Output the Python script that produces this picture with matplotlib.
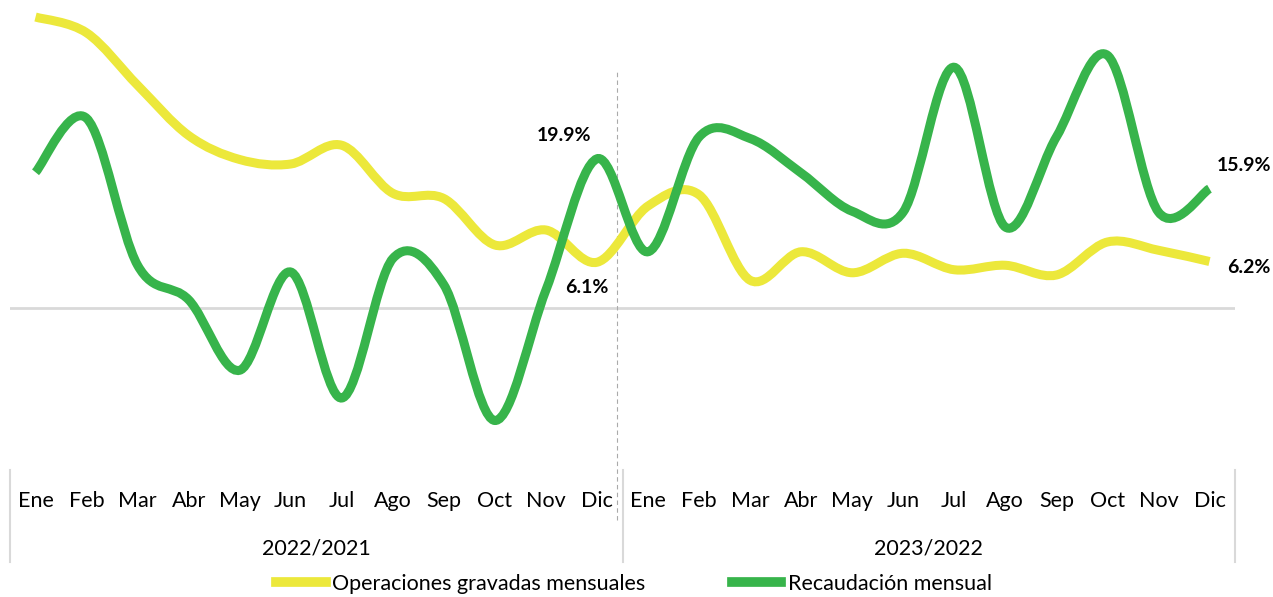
import matplotlib.pyplot as plt
from matplotlib.path import Path
from matplotlib.patches import PathPatch
from matplotlib.lines import Line2D
import numpy as np

plt.rcParams['font.family'] = ['Lato', 'DejaVu Sans']

months = ['Ene', 'Feb', 'Mar', 'Abr', 'May', 'Jun',
          'Jul', 'Ago', 'Sep', 'Oct', 'Nov', 'Dic']
periods = ['2022/2021', '2023/2022']

# variacion % mensual, 24 meses
operaciones = [38.8, 36.7, 29.7, 23.0, 19.8, 19.2, 21.7, 15.3, 14.6, 8.4, 10.4, 6.1,
               13.6, 15.1, 3.7, 7.5, 4.7, 7.3, 5.1, 5.7, 4.4, 8.8, 7.7, 6.2]
recaudacion = [18.1, 25.3, 5.7, 1.1, -8.3, 4.8, -12.0, 6.6, 3.1, -15.0, 2.4, 19.9,
               7.5, 22.8, 22.6, 18.0, 12.9, 12.8, 32.1, 10.8, 22.8, 33.7, 12.8, 15.9]

YELLOW = '#ECE83B'
GREEN = '#37B44B'
GRAY = '#D9D9D9'


def smooth_path(xs, ys):
    # curva tipo Excel (catmull-rom como bezier)
    pts = np.column_stack([xs, ys])
    pad = np.vstack([pts[0], pts, pts[-1]])
    verts = [pts[0]]
    codes = [Path.MOVETO]
    for i in range(len(pts) - 1):
        p0, p1, p2, p3 = pad[i], pad[i + 1], pad[i + 2], pad[i + 3]
        verts += [p1 + (p2 - p0) / 6, p2 - (p3 - p1) / 6, p2]
        codes += [Path.CURVE4] * 3
    return Path(verts, codes)


W, H = 1273, 597
fig = plt.figure(figsize=(W / 100, H / 100), dpi=100)
ax = fig.add_axes([10 / W, 1 - 470 / H, 1225 / W, 470 / H])
ax.set_xlim(-0.5, 23.5)
ax.set_ylim(-21.6, 41.07)
ax.axis('off')

x = np.arange(len(operaciones))
ax.axhline(0, color=GRAY, lw=2, zorder=1)
ax.plot([11.4, 11.4], [-0.106, 0.851], transform=ax.get_xaxis_transform(),
        color='#AAAAAA', lw=0.8, ls=(0, (4, 3)), clip_on=False, zorder=1)

for ys, col in [(operaciones, YELLOW), (recaudacion, GREEN)]:
    ax.add_patch(PathPatch(smooth_path(x, ys), fc='none', ec=col, lw=6.5,
                           capstyle='butt', zorder=3))

# etiquetas de datos
lbl = dict(ha='center', va='center', fontsize=14, fontweight='bold',
           textcoords='offset points')
ax.annotate('19.9%', (11, recaudacion[11]), xytext=(-24, 17), **lbl)
ax.annotate('6.1%', (11, operaciones[11]), xytext=(-7, -18), **lbl)
ax.annotate('15.9%', (23, recaudacion[23]), xytext=(25, 17), **lbl)
ax.annotate('6.2%', (23, operaciones[23]), xytext=(28, -4), **lbl)

# eje de categorias
tr = ax.get_xaxis_transform()
for i in range(24):
    ax.text(i, -0.066, months[i % 12], transform=tr, ha='center', va='center',
            fontsize=15.5, clip_on=False)
for j, p in enumerate(periods):
    ax.text(5.5 + 12 * j, -0.166, p, transform=tr, ha='center', va='center',
            fontsize=15.5, clip_on=False)
for xb in [-0.5, 11.5, 23.5]:
    ax.plot([xb, xb], [0, -0.196], transform=tr, color=GRAY, lw=1.5, clip_on=False)

handles = [Line2D([], [], color=YELLOW, lw=7),
           Line2D([], [], color=GREEN, lw=7)]
fig.legend(handles, ['Operaciones gravadas mensuales', 'Recaudación mensual'],
           loc='center', bbox_to_anchor=(634 / W, 1 - 584 / H), ncol=2, frameon=False,
           fontsize=15.5, handlelength=2.3, handletextpad=0.3, columnspacing=4.0)

fig.savefig('out.png', dpi=100)
